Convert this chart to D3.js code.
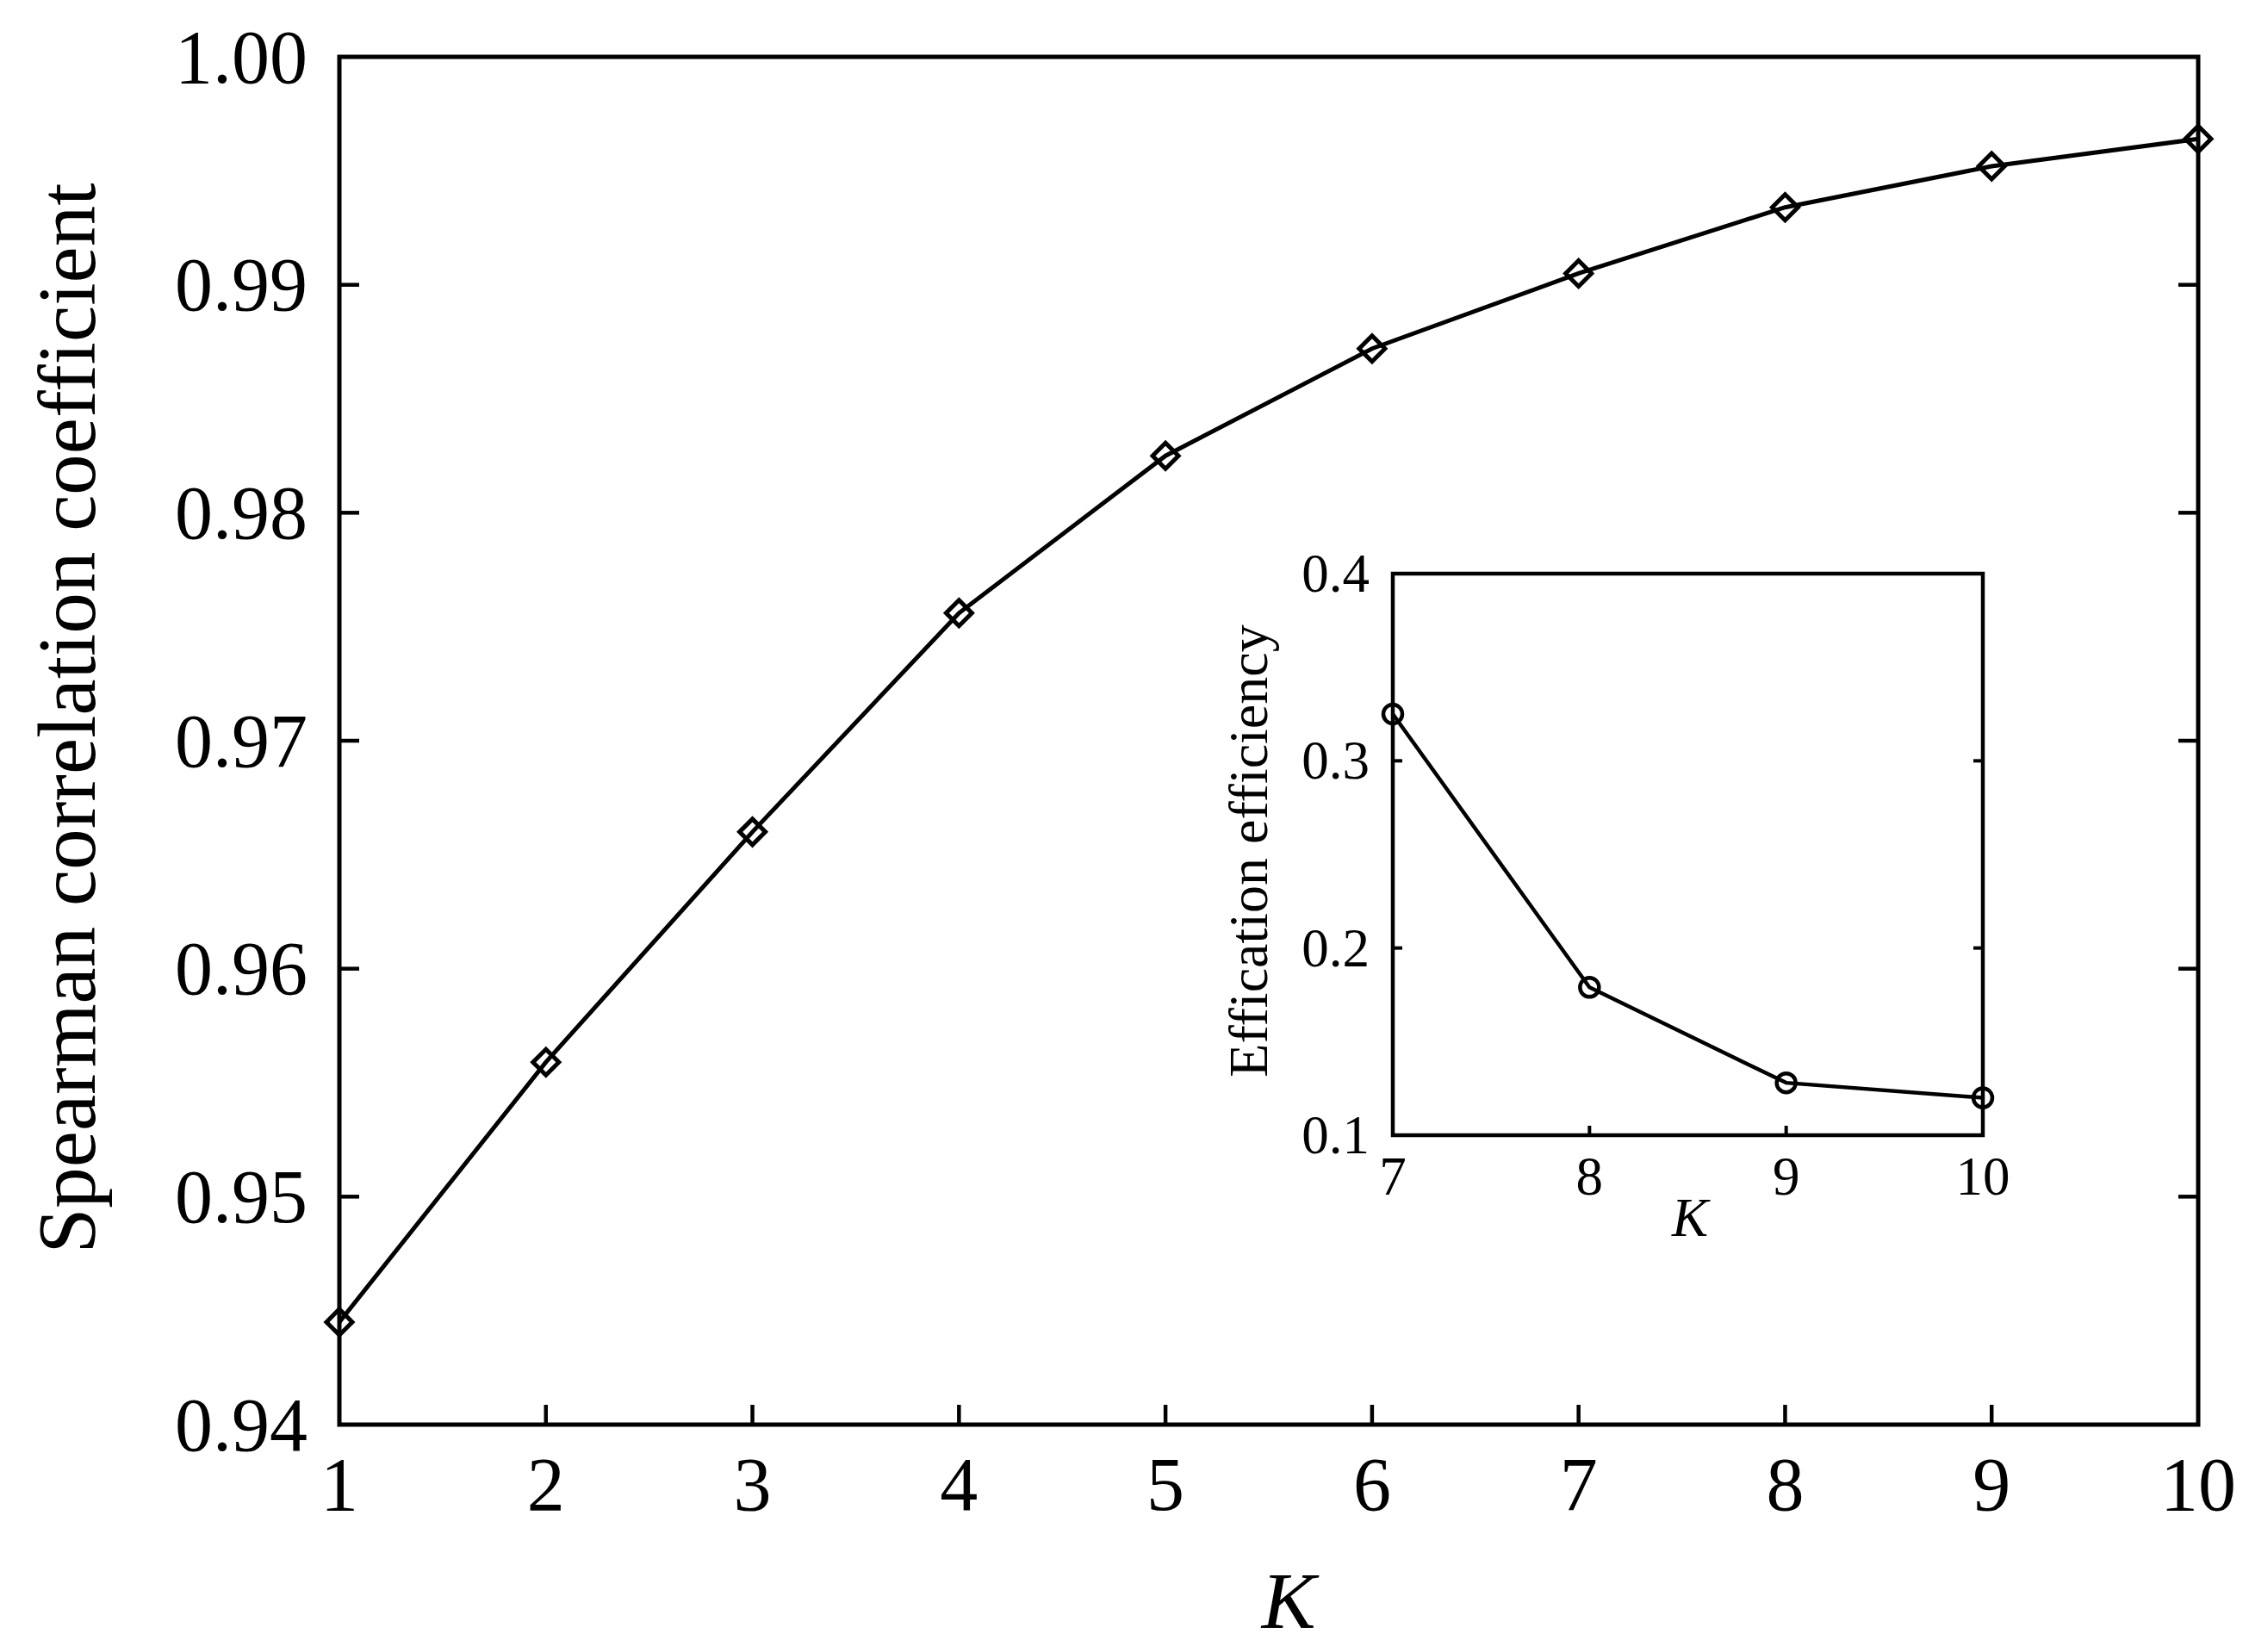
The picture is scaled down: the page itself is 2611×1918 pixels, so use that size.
<!DOCTYPE html>
<html>
<head>
<meta charset="utf-8">
<script src="https://cdn.jsdelivr.net/npm/d3@7"></script>
<style>
html,body{margin:0;padding:0;background:#fff;}
svg{display:block;}
text{font-family:"Liberation Serif","Times New Roman",serif;fill:#000;}
</style>
</head>
<body>
<svg id="chart" width="2611" height="1918"></svg>
<script>
// ---- data ----
const kValues = [1, 2, 3, 4, 5, 6, 7, 8, 9, 10];
const spearman = [0.9445, 0.9559, 0.9660, 0.9756, 0.9825, 0.9872, 0.9905, 0.9934, 0.9952, 0.9964];
const mainYTicks = [0.94, 0.95, 0.96, 0.97, 0.98, 0.99, 1.00];
const mainXTicks = [1, 2, 3, 4, 5, 6, 7, 8, 9, 10];

const insetK = [7, 8, 9, 10];
const insetEff = [0.325, 0.179, 0.128, 0.120];
const insetYTicks = [0.1, 0.2, 0.3, 0.4];
const insetXTicks = [7, 8, 9, 10];

const svg = d3.select("#chart");
svg.append("rect").attr("width", 2611).attr("height", 1918).attr("fill", "#fff");

// ---- main plot ----
const M = {left: 394, right: 2552, top: 66, bottom: 1654};
const x = d3.scaleLinear().domain([1, 10]).range([M.left, M.right]);
const y = d3.scaleLinear().domain([0.94, 1.00]).range([M.bottom, M.top]);
const tickLen = 23;

const g = svg.append("g");
g.selectAll(".xt").data(mainXTicks.slice(1, -1)).enter().append("line")
  .attr("x1", d => x(d)).attr("x2", d => x(d))
  .attr("y1", M.bottom).attr("y2", M.bottom - tickLen)
  .attr("stroke", "#000").attr("stroke-width", 4.5);
g.selectAll(".ytl").data(mainYTicks.slice(1, -1)).enter().append("line")
  .attr("x1", M.left).attr("x2", M.left + tickLen)
  .attr("y1", d => y(d)).attr("y2", d => y(d))
  .attr("stroke", "#000").attr("stroke-width", 4.5);
g.selectAll(".ytr").data(mainYTicks.slice(1, -1)).enter().append("line")
  .attr("x1", M.right).attr("x2", M.right - tickLen)
  .attr("y1", d => y(d)).attr("y2", d => y(d))
  .attr("stroke", "#000").attr("stroke-width", 4.5);
g.append("rect").attr("x", M.left).attr("y", M.top)
  .attr("width", M.right - M.left).attr("height", M.bottom - M.top)
  .attr("fill", "none").attr("stroke", "#000").attr("stroke-width", 5);

g.selectAll(".xl").data(mainXTicks).enter().append("text")
  .attr("x", d => x(d)).attr("y", 1753)
  .attr("text-anchor", "middle").attr("font-size", 88)
  .text(d => d);
g.selectAll(".yl").data(mainYTicks).enter().append("text")
  .attr("x", 357).attr("y", d => y(d))
  .attr("text-anchor", "end").attr("dominant-baseline", "central")
  .attr("font-size", 88)
  .text(d => d.toFixed(2));

g.append("text").attr("x", 1496).attr("y", 1890)
  .attr("text-anchor", "middle").attr("font-size", 94).attr("font-style", "italic")
  .text("K");
g.append("text").attr("transform", "translate(110,834) rotate(-90)")
  .attr("text-anchor", "middle").attr("font-size", 95)
  .text("Spearman correlation coefficient");

const line = d3.line().x((d, i) => x(kValues[i])).y(d => y(d));
g.append("path").datum(spearman).attr("d", line)
  .attr("fill", "none").attr("stroke", "#000").attr("stroke-width", 5);
const diamond = (cx, cy) => `M${cx},${cy-15}L${cx+15},${cy}L${cx},${cy+15}L${cx-15},${cy}Z`;
g.selectAll(".dm").data(spearman).enter().append("path")
  .attr("d", (d, i) => diamond(x(kValues[i]), y(d)))
  .attr("fill", "none").attr("stroke", "#000").attr("stroke-width", 5);

// ---- inset ----
const I = {left: 1617, right: 2302, top: 666, bottom: 1318};
const xi = d3.scaleLinear().domain([7, 10]).range([I.left, I.right]);
const yi = d3.scaleLinear().domain([0.1, 0.4]).range([I.bottom, I.top]);
const ti = 11;
const gi = svg.append("g");
gi.append("rect").attr("x", I.left).attr("y", I.top)
  .attr("width", I.right - I.left).attr("height", I.bottom - I.top)
  .attr("fill", "#fff").attr("stroke", "none");
gi.selectAll(".ixt").data(insetXTicks.slice(1, -1)).enter().append("line")
  .attr("x1", d => xi(d)).attr("x2", d => xi(d))
  .attr("y1", I.bottom).attr("y2", I.bottom - ti)
  .attr("stroke", "#000").attr("stroke-width", 4);
gi.selectAll(".iytl").data(insetYTicks.slice(1, -1)).enter().append("line")
  .attr("x1", I.left).attr("x2", I.left + ti)
  .attr("y1", d => yi(d)).attr("y2", d => yi(d))
  .attr("stroke", "#000").attr("stroke-width", 4);
gi.selectAll(".iytr").data(insetYTicks.slice(1, -1)).enter().append("line")
  .attr("x1", I.right).attr("x2", I.right - ti)
  .attr("y1", d => yi(d)).attr("y2", d => yi(d))
  .attr("stroke", "#000").attr("stroke-width", 4);
gi.append("rect").attr("x", I.left).attr("y", I.top)
  .attr("width", I.right - I.left).attr("height", I.bottom - I.top)
  .attr("fill", "none").attr("stroke", "#000").attr("stroke-width", 4.5);

gi.selectAll(".ixl").data(insetXTicks).enter().append("text")
  .attr("x", d => xi(d)).attr("y", 1387)
  .attr("text-anchor", "middle").attr("font-size", 63)
  .text(d => d);
gi.selectAll(".iyl").data(insetYTicks).enter().append("text")
  .attr("x", 1590).attr("y", d => yi(d))
  .attr("text-anchor", "end").attr("dominant-baseline", "central")
  .attr("font-size", 63)
  .text(d => d.toFixed(1));
gi.append("text").attr("x", 1962).attr("y", 1435)
  .attr("text-anchor", "middle").attr("font-size", 63).attr("font-style", "italic")
  .text("K");
gi.append("text").attr("transform", "translate(1471,988) rotate(-90)")
  .attr("text-anchor", "middle").attr("font-size", 64)
  .text("Effication efficiency");

const linei = d3.line().x((d, i) => xi(insetK[i])).y(d => yi(d));
gi.append("path").datum(insetEff).attr("d", linei)
  .attr("fill", "none").attr("stroke", "#000").attr("stroke-width", 4.5);
gi.selectAll(".ci").data(insetEff).enter().append("circle")
  .attr("cx", (d, i) => xi(insetK[i])).attr("cy", d => yi(d)).attr("r", 11)
  .attr("fill", "none").attr("stroke", "#000").attr("stroke-width", 4.5);
</script>
</body>
</html>
